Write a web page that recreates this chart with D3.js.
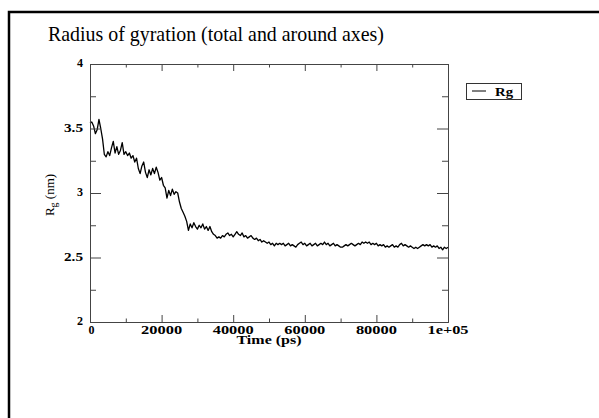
<!DOCTYPE html>
<html>
<head>
<meta charset="utf-8">
<script src="https://cdn.jsdelivr.net/npm/d3@7"></script>
<style>
  html, body { margin: 0; padding: 0; background: #fff; }
  svg { display: block; }
  text { font-family: "Liberation Serif", "Times New Roman", serif; fill: #000; }
</style>
</head>
<body>
<svg id="chart" width="599" height="418"></svg>
<script>
const chartTitle = "Radius of gyration (total and around axes)";
const xLabel = "Time (ps)";
const seriesName = "Rg";
const timeStep = 500; // ps between samples
const rgValues = [
  3.54, 3.55, 3.52, 3.46, 3.49, 3.57, 3.50, 3.42, 3.30, 3.28,
  3.32, 3.29, 3.35, 3.40, 3.31, 3.36, 3.30, 3.33, 3.39, 3.30,
  3.32, 3.29, 3.31, 3.27, 3.29, 3.24, 3.27, 3.19, 3.15, 3.21,
  3.24, 3.16, 3.12, 3.18, 3.14, 3.19, 3.15, 3.20, 3.16, 3.10,
  3.12, 3.06, 3.04, 2.96, 3.02, 2.98, 3.03, 2.99, 3.01, 3.00,
  2.93, 2.88, 2.85, 2.82, 2.78, 2.71, 2.76, 2.73, 2.77, 2.74,
  2.72, 2.75, 2.73, 2.76, 2.72, 2.74, 2.71, 2.74, 2.70, 2.68,
  2.67, 2.65, 2.66, 2.65, 2.67, 2.66, 2.68, 2.69, 2.67, 2.68,
  2.66, 2.68, 2.70, 2.68, 2.67, 2.69, 2.66, 2.67, 2.65, 2.66,
  2.67, 2.65, 2.64, 2.65, 2.63, 2.64, 2.62, 2.63, 2.62, 2.61,
  2.62, 2.60, 2.61, 2.59, 2.61, 2.60, 2.61, 2.60, 2.61, 2.59,
  2.60, 2.61, 2.59, 2.60, 2.59, 2.58, 2.60, 2.61, 2.62, 2.60,
  2.61, 2.59, 2.60, 2.61, 2.59, 2.60, 2.61, 2.59, 2.60, 2.61,
  2.60, 2.62, 2.60, 2.61, 2.59, 2.60, 2.61, 2.59, 2.60, 2.59,
  2.58, 2.58, 2.59, 2.60, 2.59, 2.60, 2.61, 2.60, 2.59, 2.60,
  2.61, 2.60, 2.62, 2.61, 2.62, 2.61, 2.62, 2.60, 2.61, 2.60,
  2.61, 2.59, 2.60, 2.59, 2.60, 2.58, 2.59, 2.58, 2.59, 2.60,
  2.58, 2.59, 2.58, 2.60, 2.61, 2.59, 2.60, 2.59, 2.58, 2.59,
  2.58, 2.57, 2.58, 2.57, 2.58, 2.59, 2.60, 2.59, 2.60, 2.59,
  2.60, 2.58, 2.59, 2.58, 2.59, 2.57, 2.58, 2.56, 2.58, 2.57,
  2.58
];
const xMajorTicks = [0, 20000, 40000, 60000, 80000, 100000];
const xTickLabels = ["0", "20000", "40000", "60000", "80000", "1e+05"];
const xMinorTicks = [10000, 30000, 50000, 70000, 90000];
const yMajorTicks = [2, 2.5, 3, 3.5, 4];
const yTickLabels = ["2", "2.5", "3", "3.5", "4"];
const yMinorTicks = [2.25, 2.75, 3.25, 3.75];

const data = rgValues.map((v, i) => ({ t: i * timeStep, rg: v }));

const svg = d3.select("#chart");
const pL = 90, pR = 448, pT = 64, pB = 322;
const x = d3.scaleLinear().domain([0, 100000]).range([pL, pR]);
const y = d3.scaleLinear().domain([2, 4]).range([pB, pT]);

// outer frame (page border)
svg.append("rect")
  .attr("x", 9).attr("y", 12).attr("width", 640).attr("height", 460)
  .attr("fill", "none").attr("stroke", "#000").attr("stroke-width", 2.5);

// title
svg.append("text")
  .attr("x", 48).attr("y", 41)
  .attr("font-size", 21)
  .attr("textLength", 336).attr("lengthAdjust", "spacingAndGlyphs")
  .text(chartTitle);

const axisColor = "#444";

// series line
svg.append("path")
  .datum(data)
  .attr("fill", "none")
  .attr("stroke", "#000")
  .attr("stroke-width", 1.3)
  .attr("stroke-linejoin", "round")
  .attr("d", d3.line().x(d => x(d.t)).y(d => y(d.rg)));

function styleAxis(g) {
  g.select(".domain").attr("stroke", axisColor).attr("stroke-width", 1);
  g.selectAll(".tick line").attr("stroke", axisColor).attr("stroke-width", 1);
  g.selectAll(".tick text").remove();
}

// bottom
svg.append("g").attr("transform", `translate(0,${pB})`)
  .call(d3.axisTop(x).tickValues(xMajorTicks).tickSize(7).tickSizeOuter(0)).call(styleAxis);
svg.append("g").attr("transform", `translate(0,${pB})`)
  .call(d3.axisTop(x).tickValues(xMinorTicks).tickSize(3.5).tickSizeOuter(0)).call(styleAxis);
// top
svg.append("g").attr("transform", `translate(0,${pT})`)
  .call(d3.axisBottom(x).tickValues(xMajorTicks).tickSize(7).tickSizeOuter(0)).call(styleAxis);
svg.append("g").attr("transform", `translate(0,${pT})`)
  .call(d3.axisBottom(x).tickValues(xMinorTicks).tickSize(3.5).tickSizeOuter(0)).call(styleAxis);
// left
svg.append("g").attr("transform", `translate(${pL},0)`)
  .call(d3.axisRight(y).tickValues(yMajorTicks).tickSize(11).tickSizeOuter(0)).call(styleAxis);
svg.append("g").attr("transform", `translate(${pL},0)`)
  .call(d3.axisRight(y).tickValues(yMinorTicks).tickSize(6).tickSizeOuter(0)).call(styleAxis);
// right
svg.append("g").attr("transform", `translate(${pR},0)`)
  .call(d3.axisLeft(y).tickValues(yMajorTicks).tickSize(11).tickSizeOuter(0)).call(styleAxis);
svg.append("g").attr("transform", `translate(${pR},0)`)
  .call(d3.axisLeft(y).tickValues(yMinorTicks).tickSize(6).tickSizeOuter(0)).call(styleAxis);

// x tick labels
svg.append("g").selectAll("text")
  .data(xMajorTicks)
  .join("text")
  .attr("x", d => x(d) + (d === 0 ? 1.5 : 0))
  .attr("y", 334)
  .attr("text-anchor", "middle")
  .attr("font-size", 12)
  .attr("font-weight", 600)
  .attr("textLength", (d, i) => xTickLabels[i].length === 1 ? null : 41)
  .attr("lengthAdjust", "spacingAndGlyphs")
  .text((d, i) => xTickLabels[i]);

// y tick labels
svg.append("g").selectAll("text")
  .data(yMajorTicks)
  .join("text")
  .attr("x", 83)
  .attr("y", d => y(d) + 3)
  .attr("text-anchor", "end")
  .attr("font-size", 12)
  .attr("font-weight", 600)
  .attr("textLength", (d, i) => yTickLabels[i].length === 1 ? null : 19)
  .attr("lengthAdjust", "spacingAndGlyphs")
  .text((d, i) => yTickLabels[i]);

// x label
svg.append("text")
  .attr("x", (pL + pR) / 2).attr("y", 344)
  .attr("text-anchor", "middle")
  .attr("font-size", 13)
  .attr("font-weight", 600)
  .attr("textLength", 65).attr("lengthAdjust", "spacingAndGlyphs")
  .text(xLabel);

// y label: R with subscript g
const yl = svg.append("text")
  .attr("transform", `translate(54,${(pT + pB) / 2 + 2}) rotate(-90)`)
  .attr("text-anchor", "middle")
  .attr("font-size", 13);
yl.append("tspan").text("R");
yl.append("tspan").attr("font-size", 10).attr("dy", 3).text("g");
yl.append("tspan").attr("dy", -3).text(" (nm)");

// legend
const lg = svg.append("g");
lg.append("rect").attr("x", 466.5).attr("y", 83.5).attr("width", 55).attr("height", 16)
  .attr("fill", "#fff").attr("stroke", "#333").attr("stroke-width", 1);
lg.append("line").attr("x1", 472).attr("x2", 486).attr("y1", 91).attr("y2", 91)
  .attr("stroke", "#000").attr("stroke-width", 1);
lg.append("text").attr("x", 495).attr("y", 96).attr("font-size", 13).attr("font-weight", 600)
  .attr("textLength", 18).attr("lengthAdjust", "spacingAndGlyphs")
  .text(seriesName);
</script>
</body>
</html>
